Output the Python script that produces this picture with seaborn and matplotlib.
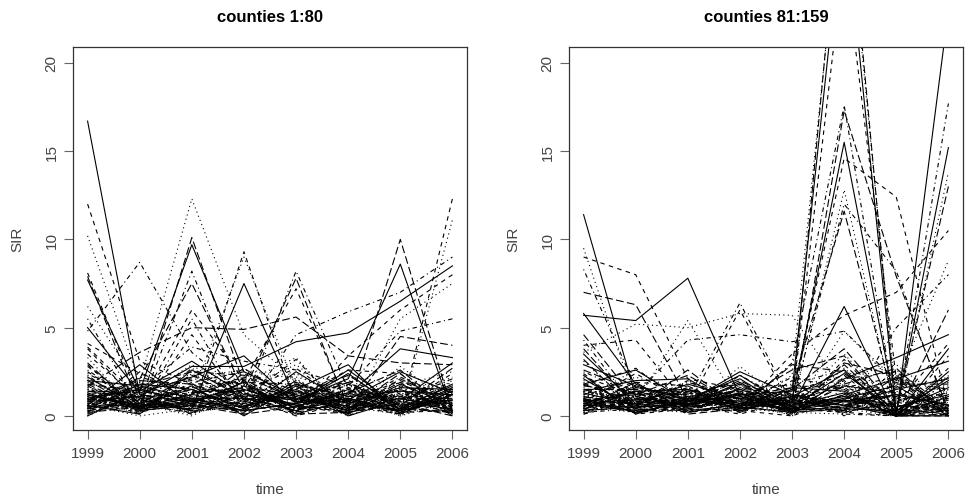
import matplotlib
matplotlib.use("Agg")
import matplotlib.pyplot as plt
import seaborn as sns
import pandas as pd

# ---------------- data ----------------
years = [1999, 2000, 2001, 2002, 2003, 2004, 2005, 2006]
y_ticks = [0, 5, 10, 15, 20]
titles = ["counties 1:80", "counties 81:159"]

# counties 1:80 — series with visible peaks
left_peaks = [
    [16.7, 1.2, 0.8, 1.5, 0.6, 1.0, 0.3, 0.9],
    [12.0, 3.1, 1.8, 0.9, 1.4, 0.5, 1.1, 0.7],
    [10.2, 1.9, 12.3, 4.6, 2.0, 0.8, 1.5, 0.4],
    [4.8, 8.7, 3.6, 1.2, 0.5, 1.3, 0.9, 2.1],
    [7.9, 0.5, 10.1, 1.8, 0.4, 0.9, 0.2, 1.2],
    [7.7, 1.4, 9.7, 2.5, 1.1, 0.3, 1.8, 0.6],
    [8.1, 0.9, 0.3, 9.3, 0.8, 0.2, 1.4, 0.5],
    [6.2, 1.6, 1.1, 9.0, 1.6, 0.7, 0.5, 1.1],
    [5.5, 0.4, 8.2, 0.7, 8.2, 1.5, 0.6, 0.9],
    [0.9, 2.1, 7.5, 1.4, 7.8, 0.4, 10.0, 0.3],
    [1.2, 0.6, 0.4, 7.5, 0.9, 2.1, 8.6, 0.2],
    [3.8, 0.7, 6.0, 2.0, 7.2, 0.6, 0.1, 12.3],
    [0.5, 1.8, 0.2, 1.1, 0.3, 0.5, 0.1, 11.1],
    [2.3, 0.2, 5.5, 0.3, 4.6, 5.9, 7.0, 9.0],
    [1.7, 3.6, 5.0, 4.9, 5.6, 3.4, 3.0, 2.9],
    [0.8, 1.1, 2.8, 2.8, 4.2, 4.7, 6.5, 8.5],
    [2.9, 0.3, 4.6, 0.6, 0.2, 3.4, 6.0, 8.0],
    [1.1, 0.8, 1.6, 1.9, 3.3, 0.1, 5.5, 7.5],
    [0.6, 1.5, 3.9, 3.1, 2.6, 1.7, 4.8, 5.5],
    [2.0, 0.4, 0.9, 0.5, 1.8, 0.3, 4.5, 4.0],
    [5.0, 1.3, 2.2, 3.4, 0.7, 1.2, 3.8, 3.3],
    [4.1, 2.4, 1.3, 2.2, 1.0, 2.6, 2.4, 0.1],
    [3.3, 0.1, 2.5, 1.6, 2.9, 0.7, 1.9, 1.5],
]

# counties 1:80 — low-level series
left_low = [
    [1.0, 0.6, 1.2, 0.8, 0.4, 1.1, 0.5, 0.9],
    [0.5, 0.9, 0.3, 1.5, 0.6, 0.2, 1.0, 0.4],
    [1.3, 0.4, 0.8, 0.5, 1.4, 0.7, 0.3, 1.6],
    [0.2, 1.9, 0.5, 1.1, 0.0, 1.6, 0.8, 0.2],
    [0.9, 0.3, 1.7, 0.6, 1.0, 0.4, 1.3, 0.7],
    [1.6, 1.0, 0.4, 2.0, 0.8, 0.9, 0.1, 1.2],
    [0.4, 0.7, 2.3, 0.9, 1.5, 0.2, 0.7, 0.0],
    [2.2, 0.5, 1.0, 0.3, 0.7, 1.3, 0.4, 1.8],
    [0.7, 1.2, 0.6, 1.7, 0.2, 0.8, 2.0, 0.6],
    [1.1, 0.2, 1.4, 0.4, 1.9, 0.5, 0.9, 1.0],
    [0.3, 0.8, 0.1, 1.3, 0.5, 1.8, 0.6, 2.4],
    [1.8, 1.4, 0.9, 0.7, 1.2, 0.3, 1.5, 0.3],
    [0.6, 0.1, 2.6, 1.0, 0.3, 1.0, 0.2, 1.4],
    [1.4, 0.9, 0.5, 2.4, 0.9, 0.6, 1.1, 0.5],
    [0.0, 1.3, 1.1, 0.2, 2.2, 1.4, 0.0, 0.8],
    [2.6, 0.6, 0.2, 1.2, 0.6, 0.1, 1.7, 1.1],
    [0.8, 2.0, 1.8, 0.6, 1.1, 2.3, 0.5, 0.2],
    [1.2, 0.4, 0.7, 1.9, 0.1, 0.9, 2.5, 1.3],
    [0.1, 1.1, 1.3, 0.1, 1.7, 0.4, 0.8, 0.6],
    [1.5, 0.7, 0.0, 1.4, 0.4, 1.2, 0.3, 2.0],
    [0.9, 1.6, 2.0, 0.8, 1.3, 0.0, 1.2, 0.1],
    [3.0, 0.3, 0.6, 2.7, 0.8, 1.9, 0.6, 0.9],
    [0.4, 1.8, 1.5, 0.4, 2.5, 0.7, 1.6, 1.5],
    [1.7, 0.2, 0.9, 1.6, 0.2, 1.5, 0.2, 0.3],
    [0.7, 1.0, 2.9, 0.9, 1.6, 0.3, 2.8, 0.7],
    [2.4, 0.8, 0.3, 0.5, 0.9, 2.0, 0.9, 1.9],
    [0.2, 0.5, 1.2, 2.1, 0.4, 0.6, 0.4, 0.2],
    [1.0, 1.5, 0.8, 0.3, 1.8, 1.1, 1.4, 1.2],
    [3.5, 0.9, 1.6, 1.3, 0.6, 0.2, 0.7, 0.4],
    [0.6, 0.0, 0.4, 0.7, 1.1, 1.7, 1.0, 2.2],
    [1.3, 1.2, 2.1, 1.8, 0.0, 0.8, 0.1, 0.8],
    [0.3, 0.6, 0.7, 0.2, 2.0, 0.4, 1.9, 0.0],
    [2.0, 1.7, 1.0, 1.0, 0.7, 2.6, 0.5, 1.7],
    [0.8, 0.4, 1.9, 2.5, 1.4, 0.1, 1.3, 0.5],
    [1.9, 0.9, 0.2, 0.6, 0.3, 1.0, 0.0, 1.3],
    [0.5, 2.2, 1.4, 1.4, 2.7, 0.6, 2.2, 0.9],
    [1.1, 0.3, 0.6, 0.1, 0.5, 1.5, 0.6, 2.7],
    [0.0, 1.4, 3.1, 1.2, 1.0, 0.3, 1.0, 0.3],
    [2.8, 0.7, 0.5, 0.8, 1.9, 0.9, 0.3, 1.0],
    [0.4, 1.9, 1.1, 2.2, 0.2, 2.2, 1.8, 0.6],
    [1.6, 0.1, 2.4, 0.4, 1.3, 0.5, 0.4, 1.6],
    [0.9, 1.1, 0.3, 1.5, 0.8, 1.3, 2.6, 0.2],
    [1.2, 0.5, 1.7, 0.0, 1.7, 0.0, 0.9, 3.0],
    [0.2, 2.5, 0.8, 1.7, 0.4, 1.8, 0.2, 1.1],
    [2.1, 0.8, 1.2, 0.9, 2.4, 0.7, 1.5, 0.4],
    [0.7, 0.2, 2.7, 1.1, 0.9, 1.4, 0.7, 1.8],
    [1.4, 1.3, 0.1, 2.0, 0.1, 0.2, 2.1, 0.7],
    [0.5, 0.7, 1.5, 0.5, 1.5, 2.9, 0.1, 1.4],
    [3.9, 1.0, 0.9, 1.3, 0.6, 1.1, 1.1, 0.1],
    [1.0, 0.1, 2.2, 2.6, 2.1, 0.5, 1.7, 2.5],
    [0.3, 1.6, 0.4, 0.8, 0.3, 1.6, 0.5, 0.9],
    [1.8, 0.4, 1.3, 1.6, 1.2, 0.4, 2.4, 0.0],
    [0.6, 2.9, 0.6, 0.3, 0.7, 2.4, 0.3, 1.5],
    [2.5, 0.6, 1.8, 1.9, 1.8, 0.8, 1.2, 0.6],
    [0.1, 1.2, 0.2, 0.6, 0.5, 1.2, 0.8, 2.1],
    [1.5, 0.3, 1.1, 1.0, 3.2, 0.1, 1.6, 0.3],
    [0.9, 1.7, 2.5, 2.3, 0.9, 1.9, 0.4, 1.2],
]

# counties 81:159 — series with visible peaks
right_peaks = [
    [11.4, 1.1, 0.6, 1.3, 0.4, 0.9, 0.5, 1.2],
    [9.0, 8.0, 2.1, 1.5, 0.9, 1.7, 0.2, 0.8],
    [9.5, 0.8, 5.4, 0.6, 1.2, 0.3, 1.0, 0.5],
    [8.3, 1.6, 1.0, 6.4, 0.7, 0.4, 0.9, 1.3],
    [7.0, 6.3, 0.9, 1.4, 0.5, 1.1, 0.6, 0.3],
    [5.7, 5.4, 7.8, 1.1, 0.3, 0.8, 1.2, 0.6],
    [4.0, 4.3, 0.6, 6.0, 0.5, 0.2, 0.9, 0.4],
    [3.6, 5.2, 5.0, 5.8, 5.7, 1.3, 0.7, 1.0],
    [2.5, 1.2, 4.3, 4.6, 4.2, 4.8, 2.0, 1.5],
    [0.7, 0.9, 1.1, 0.8, 0.6, 32.0, 0.1, 0.4],
    [0.3, 0.5, 0.7, 1.2, 1.4, 29.0, 0.0, 1.1],
    [1.0, 0.2, 0.4, 0.9, 0.8, 26.0, 2.1, 0.0],
    [0.4, 1.1, 0.3, 0.5, 2.3, 31.0, 0.6, 0.2],
    [1.5, 0.6, 0.9, 0.4, 3.0, 17.6, 0.1, 17.7],
    [0.8, 1.3, 0.5, 1.0, 0.2, 17.3, 7.9, 0.3],
    [2.1, 0.4, 1.5, 0.7, 0.9, 15.5, 0.2, 15.2],
    [0.6, 0.7, 0.2, 1.6, 1.1, 14.6, 12.4, 0.5],
    [1.2, 0.9, 0.8, 0.3, 0.4, 12.8, 0.0, 13.8],
    [0.5, 1.5, 1.2, 0.6, 0.7, 12.0, 8.2, 0.1],
    [3.2, 0.3, 0.6, 1.1, 1.6, 11.6, 0.3, 13.0],
    [1.8, 2.6, 0.8, 2.3, 0.5, 6.2, 0.0, 23.0],
    [0.9, 0.6, 2.0, 0.4, 3.5, 5.7, 7.0, 10.5],
    [0.2, 1.0, 0.4, 1.9, 0.3, 4.8, 1.8, 8.8],
    [1.4, 0.8, 1.6, 0.6, 1.2, 0.1, 5.0, 8.0],
    [0.7, 0.2, 0.5, 0.9, 2.6, 3.4, 0.0, 6.0],
    [2.9, 1.7, 0.9, 0.5, 0.2, 2.1, 3.3, 4.6],
]

# counties 81:159 — low-level series
right_low = [
    [0.6, 1.0, 0.5, 0.8, 0.3, 1.2, 0.0, 0.5],
    [1.2, 0.4, 0.9, 0.3, 0.9, 0.6, 1.4, 0.1],
    [0.3, 0.8, 1.3, 1.0, 0.2, 1.8, 0.0, 0.9],
    [1.7, 1.3, 0.3, 0.6, 1.1, 0.4, 2.2, 0.0],
    [0.9, 0.2, 0.8, 1.5, 0.5, 2.4, 0.3, 1.6],
    [0.1, 1.6, 1.1, 0.4, 0.8, 0.9, 1.1, 0.2],
    [1.4, 0.7, 0.4, 0.9, 0.0, 1.5, 0.0, 2.3],
    [0.8, 1.1, 1.7, 0.2, 1.3, 0.3, 2.6, 0.4],
    [3.8, 0.5, 0.6, 1.2, 0.6, 2.9, 0.2, 1.0],
    [0.5, 1.9, 0.2, 0.7, 0.4, 1.0, 1.7, 0.0],
    [1.1, 0.3, 1.4, 1.8, 1.0, 0.2, 0.0, 3.4],
    [0.2, 0.9, 0.7, 0.5, 0.1, 2.2, 2.9, 0.7],
    [1.6, 0.6, 1.9, 1.1, 0.7, 0.7, 0.1, 1.9],
    [0.7, 1.4, 0.1, 0.4, 1.5, 3.8, 0.4, 0.1],
    [2.3, 0.1, 1.0, 2.1, 0.3, 0.5, 1.2, 0.6],
    [0.4, 0.8, 0.6, 0.1, 0.9, 1.6, 0.0, 2.7],
    [1.0, 2.2, 1.2, 0.8, 0.2, 0.1, 2.0, 0.3],
    [4.3, 0.4, 0.3, 1.3, 1.8, 2.6, 0.5, 1.3],
    [0.9, 1.2, 2.3, 0.6, 0.5, 1.1, 0.0, 0.0],
    [1.3, 0.6, 0.8, 2.5, 1.2, 0.6, 1.5, 2.1],
    [0.3, 1.7, 0.4, 0.3, 0.0, 3.2, 0.1, 0.8],
    [2.0, 0.9, 1.5, 0.9, 0.8, 0.3, 2.4, 0.2],
    [0.6, 0.3, 0.9, 1.7, 0.4, 2.0, 0.0, 1.5],
    [1.5, 1.5, 0.2, 0.5, 1.1, 0.8, 0.6, 0.4],
    [3.5, 0.7, 1.8, 1.0, 0.6, 1.3, 0.0, 3.8],
    [0.8, 2.4, 0.7, 0.2, 2.0, 0.0, 1.9, 0.1],
    [1.9, 0.2, 1.1, 1.4, 0.3, 2.7, 0.2, 1.1],
    [0.4, 1.0, 0.5, 0.8, 0.7, 0.9, 0.0, 0.6],
    [1.1, 0.5, 2.6, 0.4, 1.0, 1.8, 2.7, 0.0],
    [5.8, 1.8, 0.6, 1.9, 0.2, 0.4, 0.3, 2.0],
    [0.7, 0.6, 1.3, 0.7, 1.4, 2.3, 0.0, 0.3],
    [1.3, 1.1, 0.2, 2.8, 0.5, 1.1, 1.0, 1.7],
    [0.2, 0.4, 1.6, 0.3, 0.9, 0.6, 0.0, 0.5],
    [2.6, 1.4, 0.8, 1.2, 0.1, 3.0, 2.3, 0.2],
    [0.9, 0.7, 1.0, 0.6, 1.6, 1.4, 0.0, 2.5],
    [1.7, 2.7, 0.5, 1.6, 0.4, 0.2, 0.8, 0.0],
    [0.5, 0.2, 2.0, 0.9, 1.0, 1.9, 0.0, 1.2],
    [1.0, 1.3, 0.3, 2.3, 0.7, 0.5, 1.6, 0.4],
    [4.6, 0.9, 1.4, 0.5, 2.9, 2.5, 0.0, 0.1],
    [0.6, 0.5, 0.7, 1.3, 0.2, 1.2, 2.1, 3.1],
    [1.2, 1.9, 1.7, 0.2, 1.2, 0.8, 0.0, 0.7],
    [0.3, 0.6, 0.4, 1.1, 0.6, 3.5, 0.4, 0.0],
    [2.2, 1.2, 1.2, 0.7, 1.5, 0.1, 0.0, 1.4],
    [0.8, 0.3, 0.6, 1.8, 0.3, 1.7, 1.3, 0.6],
    [1.4, 2.0, 2.1, 0.4, 0.8, 0.6, 0.0, 2.2],
    [0.1, 0.8, 0.9, 1.0, 1.3, 2.1, 2.5, 0.2],
    [3.1, 0.4, 0.2, 1.5, 0.4, 0.9, 0.1, 1.0],
    [0.7, 1.6, 1.3, 0.6, 2.2, 1.5, 0.0, 0.3],
    [1.8, 0.7, 0.8, 2.0, 0.5, 0.3, 1.8, 1.8],
    [0.4, 1.4, 1.5, 0.3, 1.1, 2.6, 0.0, 0.0],
    [2.4, 0.1, 0.4, 1.2, 0.0, 1.0, 0.7, 4.1],
    [1.0, 2.6, 1.0, 0.8, 0.9, 0.4, 0.0, 0.9],
    [0.5, 1.1, 0.6, 1.7, 1.7, 1.6, 2.2, 0.4],
]

# ---------------- build long tables ----------------
def long_table(rows, first_id):
    recs = []
    for k, row in enumerate(rows):
        cid = first_id + k
        lty = (k % 5) + 1          # R matplot lty = 1:5 recycled
        for yr, v in zip(years, row):
            recs.append({"county": cid, "year": yr, "SIR": v, "lty": lty})
    return pd.DataFrame(recs)

df_left = long_table(left_peaks + left_low, 1)
df_right = long_table(right_peaks + right_low, 81)

# ---------------- plotting ----------------
plt.rcParams["font.family"] = ["Liberation Sans", "DejaVu Sans"]

dash_map = {1: "", 2: (4, 4), 3: (1, 3), 4: (1, 3, 4, 3), 5: (7, 3)}

fig = plt.figure(figsize=(9.69, 5.02), dpi=100)
W, H = 969, 502
box_bottom, box_top = 431, 48
lefts = [73, 569]
axes = [fig.add_axes([l / W, 1 - box_bottom / H, 394 / W, (box_bottom - box_top) / H])
        for l in lefts]

for ax, df, title in zip(axes, [df_left, df_right], titles):
    sns.lineplot(data=df, x="year", y="SIR", units="county", estimator=None,
                 style="lty", dashes=dash_map, color="black", linewidth=0.8,
                 legend=False, ax=ax)
    ax.set_xlim(1998.72, 2006.28)
    ax.set_ylim(-0.8, 20.9)
    ax.set_xticks(years)
    ax.set_xticklabels([str(y) for y in years])
    ax.set_yticks(y_ticks)
    ax.set_yticklabels([str(t) for t in y_ticks])
    for t in ax.get_yticklabels():
        t.set_rotation(90)
        t.set_va("center")
    ax.tick_params(axis="both", direction="out", length=6.5, width=0.8,
                   color="#666666", labelcolor="#444444", labelsize=11)
    ax.tick_params(axis="x", pad=5)
    ax.tick_params(axis="y", pad=4)
    for s in ax.spines.values():
        s.set_color("#333333")
        s.set_linewidth(0.9)
    ax.set_facecolor("white")
    ax.set_xlabel("time", fontsize=11, color="#444444")
    ax.set_ylabel("SIR", fontsize=11, color="#444444")
    ax.xaxis.set_label_coords(0.5, (box_bottom - 490) / (box_bottom - box_top))
    ax.xaxis.label.set_va("center")
    ax.yaxis.set_label_coords(-56 / 394, 0.5)
    ax.yaxis.label.set_va("center")
    ax.text(0.5, (box_bottom - 17.5) / (box_bottom - box_top), title,
            transform=ax.transAxes, ha="center", va="center",
            fontsize=12, fontweight="bold")

fig.savefig("out.png", dpi=100, facecolor="white")
